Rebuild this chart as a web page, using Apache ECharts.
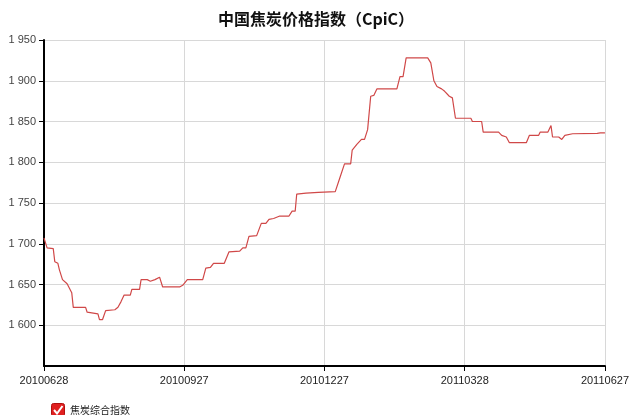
<!DOCTYPE html>
<html><head><meta charset="utf-8">
<script src="https://cdn.jsdelivr.net/npm/echarts@6/dist/echarts.min.js"></script>
<style>html,body{margin:0;padding:0;background:#fff}#c{width:632px;height:415px}</style>
</head><body><div id="c"></div>
<script>
const titleText = '中国焦炭价格指数（CpiC）';
const seriesName = '焦炭综合指数';
const startDate = '2010-06-28';
const dates = ['2010-06-28','2010-06-30','2010-07-04','2010-07-05','2010-07-07','2010-07-08','2010-07-09','2010-07-10','2010-07-13','2010-07-16','2010-07-17','2010-07-25','2010-07-26','2010-08-02','2010-08-03','2010-08-05','2010-08-07','2010-08-13','2010-08-15','2010-08-17','2010-08-19','2010-08-23','2010-08-24','2010-08-29','2010-08-30','2010-09-03','2010-09-05','2010-09-08','2010-09-11','2010-09-13','2010-09-24','2010-09-26','2010-09-29','2010-10-09','2010-10-11','2010-10-14','2010-10-16','2010-10-23','2010-10-26','2010-11-02','2010-11-04','2010-11-06','2010-11-08','2010-11-13','2010-11-16','2010-11-19','2010-11-21','2010-11-24','2010-11-28','2010-12-04','2010-12-06','2010-12-08','2010-12-09','2010-12-15','2010-12-23','2011-01-03','2011-01-06','2011-01-09','2011-01-13','2011-01-14','2011-01-17','2011-01-20','2011-01-22','2011-01-24','2011-01-26','2011-01-28','2011-01-30','2011-02-12','2011-02-14','2011-02-16','2011-02-18','2011-03-04','2011-03-06','2011-03-08','2011-03-10','2011-03-13','2011-03-15','2011-03-18','2011-03-20','2011-03-22','2011-04-01','2011-04-02','2011-04-08','2011-04-09','2011-04-19','2011-04-21','2011-04-24','2011-04-26','2011-05-07','2011-05-09','2011-05-15','2011-05-16','2011-05-21','2011-05-23','2011-05-24','2011-05-28','2011-05-30','2011-06-01','2011-06-06','2011-06-22','2011-06-24','2011-06-27'];
const values = [1707,1695,1694,1678,1676,1668,1666,1656,1651,1640,1622,1622,1616,1614,1607,1607,1618,1619,1622,1629,1637,1637,1644,1644,1656,1656,1654,1656,1659,1647,1647,1649,1656,1656,1670,1671,1676,1676,1690,1691,1695,1695,1709,1710,1725,1725,1730,1731,1734,1734,1740,1740,1761,1762,1763,1764,1781,1798,1798,1815,1822,1828,1828,1840,1881,1882,1890,1890,1905,1905,1928,1928,1922,1900,1893,1890,1887,1881,1879,1854,1854,1850,1850,1837,1837,1833,1831,1824,1824,1833,1833,1837,1837,1845,1831,1831,1828,1833,1835,1835.5,1836,1836];
const yMin = 1550, yMax = 1950, yStep = 50;
const xTickDays = 91, xSpanDays = 364;

const DAY = 86400000;
const t0 = Date.parse(startDate + 'T00:00:00Z');
const dayOf = s => Math.round((Date.parse(s + 'T00:00:00Z') - t0) / DAY);
const fmtDay = d => { const t = new Date(t0 + d * DAY); const p = n => String(n).padStart(2,'0'); return t.getUTCFullYear() + p(t.getUTCMonth()+1) + p(t.getUTCDate()); };
const data = dates.map((s,i) => [dayOf(s), values[i]]);

const checkIcon = 'image://data:image/svg+xml;utf8,' + encodeURIComponent('<svg xmlns="http://www.w3.org/2000/svg" width="14" height="14"><rect x="0.5" y="0.5" width="13" height="13" rx="2" fill="#e02020" stroke="#b01010"/><path d="M3 7 L6 10.5 L11.5 3" fill="none" stroke="#fff" stroke-width="2"/></svg>');

const chart = echarts.init(document.getElementById('c'), null, {renderer:'canvas'});
chart.setOption({
  animation:false,
  backgroundColor:'#fff',
  title:{text:titleText,left:'center',top:6,textStyle:{fontFamily:'Noto Sans CJK SC',fontSize:16,fontWeight:'bold',color:'#111'}},
  grid:{left:44,right:22,top:40,bottom:49,containLabel:false},
  legend:{left:46,top:398,itemWidth:14,itemHeight:14,itemGap:6,
    data:[{name:seriesName,icon:checkIcon}],
    textStyle:{fontFamily:'Noto Sans CJK SC',fontSize:10,color:'#222'}},
  xAxis:{type:'value',min:0,max:xSpanDays,interval:xTickDays,
    axisLine:{lineStyle:{color:'#000',width:2}},
    axisTick:{show:true,length:5,lineStyle:{color:'#000'}},
    axisLabel:{formatter:v=>fmtDay(v),color:'#222',fontFamily:'Liberation Sans',fontSize:11,margin:9},
    splitLine:{show:true,lineStyle:{color:'#d8d8d8',width:1}}},
  yAxis:{type:'value',min:yMin,max:yMax,interval:yStep,
    axisLine:{show:true,lineStyle:{color:'#000',width:2}},
    axisTick:{show:true,length:5,lineStyle:{color:'#000'}},
    axisLabel:{showMinLabel:false,formatter:v=>String(v).replace(/\B(?=(\d{3})+(?!\d))/g,' '),color:'#444',fontFamily:'Liberation Sans',fontSize:11,margin:8},
    splitLine:{show:true,lineStyle:{color:'#d8d8d8',width:1}}},
  series:[{name:seriesName,type:'line',data:data,showSymbol:false,symbol:'none',
    lineStyle:{color:'#d04848',width:1.2},itemStyle:{color:'#d04848'}}]
});
</script></body></html>
